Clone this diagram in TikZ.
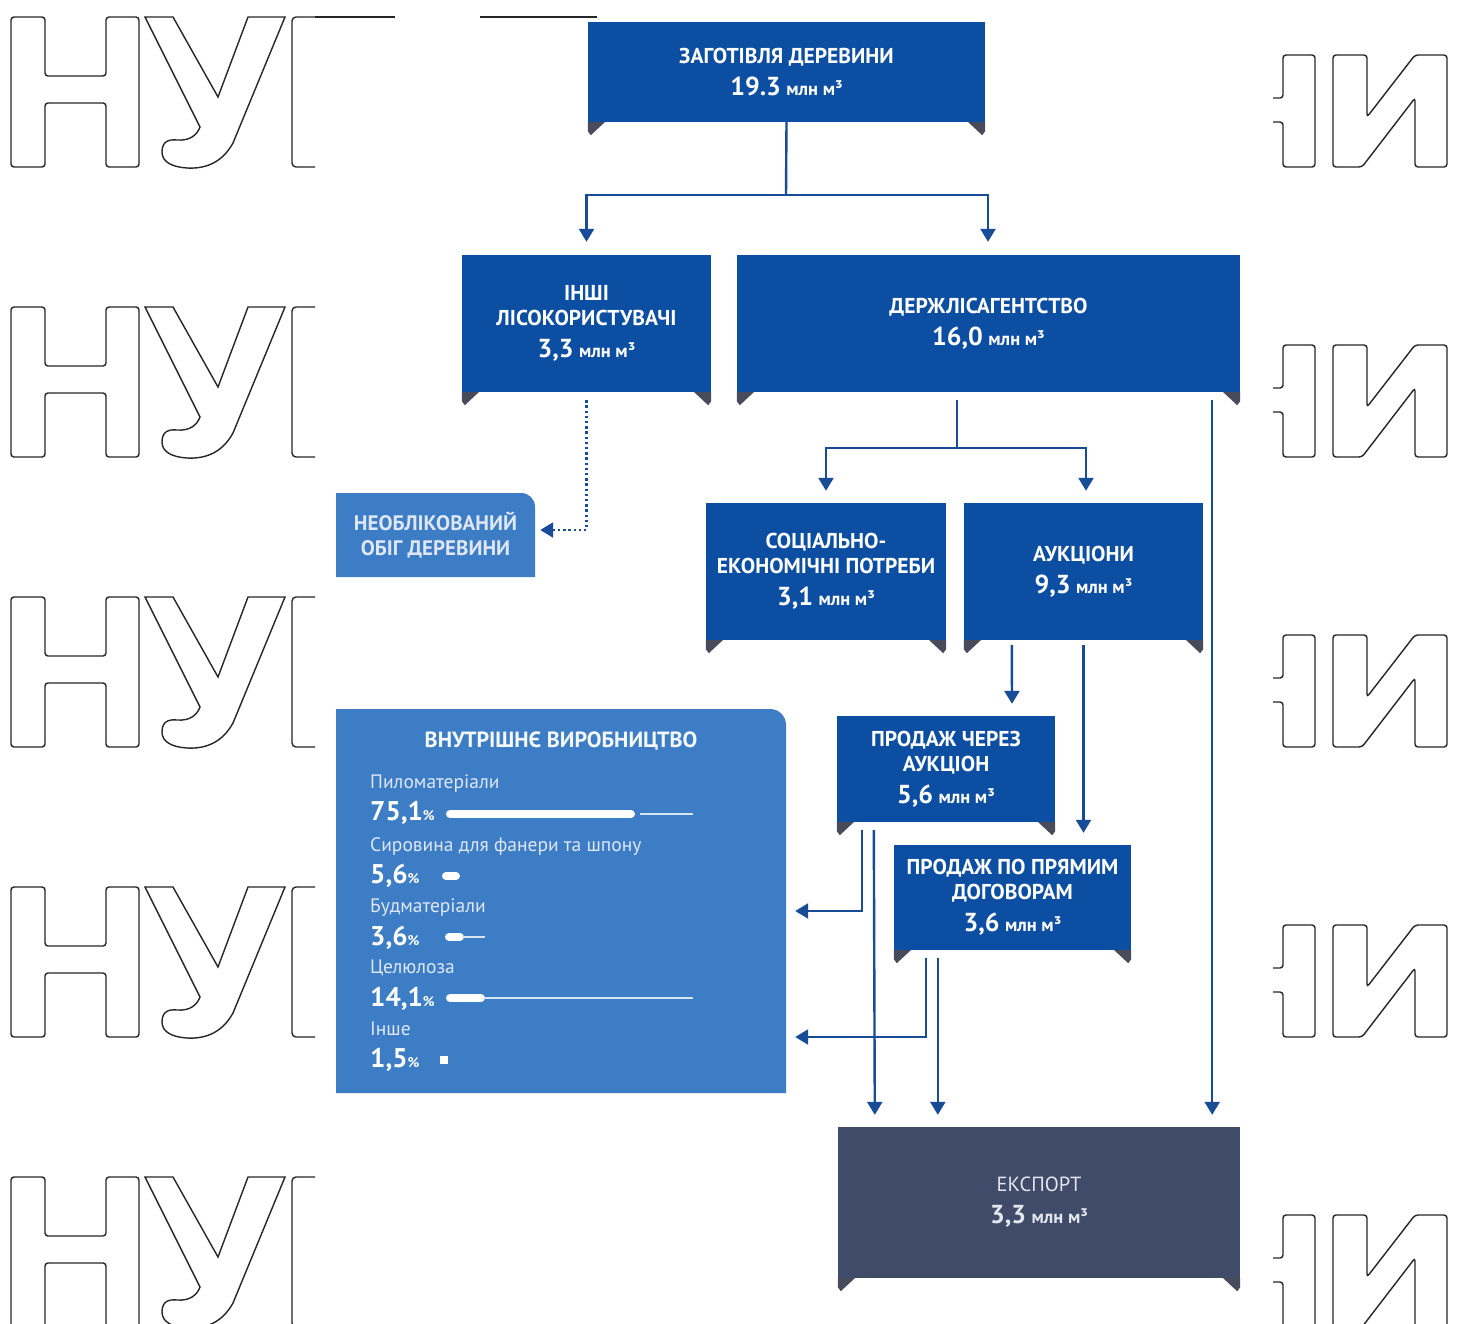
\documentclass[tikz,border=0pt]{standalone}
\usepackage{fontspec}
\setmainfont{PT Sans}
\usetikzlibrary{arrows.meta}
\definecolor{dblue}{RGB}{12,78,162}
\definecolor{lblue}{RGB}{61,125,197}
\definecolor{expc}{RGB}{63,75,104}
\definecolor{tabc}{RGB}{72,76,90}
\definecolor{linec}{RGB}{24,76,150}
\definecolor{ltext}{RGB}{222,231,243}
\definecolor{etext}{RGB}{226,230,237}
\newcommand\bnum[1]{{\fontsize{26}{26}\selectfont\bfseries #1}}
\newcommand\bunit[1]{{\fontsize{18.5}{18}\selectfont\bfseries #1}}
\newcommand\pcsign{{\fontsize{14}{14}\selectfont\%}}
\newcommand\boxtabs[1]{%
  \fill[tabc] (#1.south west) -- ++(17,0) -- ++(-14,13) -- ++(-3,-4) -- cycle;
  \fill[tabc] (#1.south east) -- ++(-17,0) -- ++(14,13) -- ++(3,-4) -- cycle;}
\begin{document}
\begin{tikzpicture}[x=1pt,y=-1pt,
  wm/.style={draw=black!85, line width=1.4pt},
  dbox/.style={fill=dblue, text=white, inner sep=0pt, align=center,
     font=\fontsize{21.5}{25}\selectfont\bfseries},
  ebox/.style={fill=expc, text=etext, inner sep=0pt, align=center,
     font=\fontsize{20.5}{25}\selectfont},
  lbox/.style={text=ltext, inner sep=0pt, align=center,
     font=\fontsize{21}{25}\selectfont\bfseries},
  conn/.style={draw=linec, line width=2.4pt, -{Triangle[width=15pt,length=13pt]}},
  dotconn/.style={conn, dash pattern=on 2.4pt off 2.8pt},
  lab/.style={text=ltext, inner sep=0pt, anchor=base west, font=\fontsize{19.5}{20}\selectfont},
  pct/.style={text=white, inner sep=0pt, anchor=base west, font=\fontsize{27}{28}\selectfont\bfseries},
  bar/.style={white, line width=8pt, line cap=round},
  track/.style={white!80!lblue, line width=1.5pt}
]
\fill[white] (0,0) rectangle (1459,1323);
\useasboundingbox (0,0) rectangle (1459,1323);

% ---------- watermark ----------
\begin{scope}
\clip (0,0) rectangle (315,1323);
\foreach \k in {0,...,4}{
 \begin{scope}[shift={(0,290*\k)}]
  \draw[wm, rounded corners=3pt] (11,17) -- (45,17) -- (45,76) -- (106,76) -- (106,17) -- (139,17) -- (139,167) -- (106,167) -- (106,103) -- (45,103) -- (45,167) -- (11,167) -- cycle;
  \draw[wm] (145,17) -- (173,17) -- (218,97) -- (248,17) -- (285,17) -- (233,143) .. controls (222,163) and (205,169) .. (187,168) .. controls (172,167) and (162,162) .. (162,152) .. controls (162,142) and (168,139) .. (177,140) .. controls (190,141) and (197,135) .. (200,127) -- cycle;
  \draw[wm, rounded corners=4pt] (330,17) -- (292,17) -- (292,167) -- (330,167);
 \end{scope}}
\end{scope}
\draw[wm] (315,17) -- (395,17);
\draw[wm] (480,17) -- (597,17);
\begin{scope}
\clip (1273,0) rectangle (1459,1323);
\foreach \k in {0,...,4}{
 \begin{scope}[shift={(0,290*\k)}]
  \draw[wm, rounded corners=3pt] (1260,98) -- (1283,98) -- (1283,55) -- (1315,55) -- (1315,167) -- (1283,167) -- (1283,122) -- (1260,122);
  \draw[wm, rounded corners=3pt] (1333,55) -- (1367,55) -- (1367,117) -- (1415,55) -- (1447,55) -- (1447,167) -- (1415,167) -- (1415,98) -- (1362,167) -- (1333,167) -- cycle;
 \end{scope}}
\end{scope}

% ---------- boxes ----------
\node[dbox, minimum width=397pt, minimum height=100pt] (zag) at (786.5,72)
  {ЗАГОТІВЛЯ ДЕРЕВИНИ\\[7pt]\bnum{19.3}~\bunit{млн м³}};
\node[dbox, minimum width=249pt, minimum height=137pt] (inshi) at (586.5,323.5)
  {ІНШІ\\ЛІСОКОРИСТУВАЧІ\\[7pt]\bnum{3,3}~\bunit{млн м³}};
\node[dbox, minimum width=503pt, minimum height=137pt] (derzh) at (988.5,323.5)
  {ДЕРЖЛІСАГЕНТСТВО\\[7pt]\bnum{16,0}~\bunit{млн м³}};
\node[dbox, minimum width=240pt, minimum height=137pt] (soc) at (826,571.5)
  {СОЦІАЛЬНО-\\ЕКОНОМІЧНІ ПОТРЕБИ\\[7pt]\bnum{3,1}~\bunit{млн м³}};
\node[dbox, minimum width=239pt, minimum height=137pt] (auk) at (1083.5,571.5)
  {АУКЦІОНИ\\[7pt]\bnum{9,3}~\bunit{млн м³}};
\node[dbox, minimum width=218pt, minimum height=106pt] (prauk) at (946,769)
  {ПРОДАЖ ЧЕРЕЗ\\АУКЦІОН\\[7pt]\bnum{5,6}~\bunit{млн м³}};
\node[dbox, minimum width=237pt, minimum height=105pt] (prdog) at (1012.5,897.5)
  {ПРОДАЖ ПО ПРЯМИМ\\ДОГОВОРАМ\\[7pt]\bnum{3,6}~\bunit{млн м³}};
\node[ebox, minimum width=402pt, minimum height=151pt] (export) at (1039,1202.5)
  {ЕКСПОРТ\\[7pt]\bnum{3,3}~\bunit{млн м³}};
\foreach \n in {zag,inshi,derzh,soc,auk,prauk,prdog,export}{\boxtabs{\n}}

% light boxes with rounded top-right corner
\fill[lblue] (336,577) -- (336,493) -- (521,493) .. controls (529,493) and (535,499) .. (535,507) -- (535,577) -- cycle;
\node[lbox, minimum width=199pt, minimum height=84pt] (neobl) at (435.5,535)
  {НЕОБЛІКОВАНИЙ\\ОБІГ ДЕРЕВИНИ};
\fill[lblue] (336,1093) -- (336,709) -- (770,709) .. controls (779,709) and (786,716) .. (786,725) -- (786,1093) -- cycle;
\node[inner sep=0pt, minimum width=450pt, minimum height=384pt] (vnutr) at (561,901) {};
\node[lbox, text=white!95!lblue, font=\fontsize{22}{25}\selectfont\bfseries] (vtitle) at (561,741) {ВНУТРІШНЄ ВИРОБНИЦТВО};

\node[lab] (l1) at (370,788) {Пиломатеріали};
\node[pct] (p1) at (370,820) {75,1\pcsign};
\draw[bar] (450,814) -- (631,814);
\draw[track] (640,814) -- (693,814);
\node[lab] (l2) at (370,851) {Сировина для фанери та шпону};
\node[pct] (p2) at (370,883) {5,6\pcsign};
\draw[bar] (446,876) -- (456,876);
\node[lab] (l3) at (370,912) {Будматеріали};
\node[pct] (p3) at (370,945) {3,6\pcsign};
\draw[bar] (449,937) -- (460,937);
\draw[track] (462,937) -- (485,937);
\node[lab] (l4) at (370,973) {Целюлоза};
\node[pct] (p4) at (370,1006) {14,1\pcsign};
\draw[bar] (450,998) -- (481,998);
\draw[track] (484,998) -- (693,998);
\node[lab] (l5) at (370,1035) {Інше};
\node[pct] (p5) at (370,1067) {1,5\pcsign};
\fill[white] (440,1056) rectangle (448,1064);

% ---------- connectors ----------
\coordinate (j1) at (786,195);
\draw[linec, line width=2.4pt] (zag.south) -- (j1);
\draw[conn] (j1) -| ([yshift=13pt]inshi.north);
\draw[conn] (j1) -| ([yshift=13pt,xshift=-0.5pt]derzh.north);
\draw[dotconn] ([yshift=-8pt]inshi.south) |- ([xshift=5pt,yshift=5pt]neobl.east);
\coordinate (j2) at (957,448);
\draw[linec, line width=2.4pt] ([xshift=-31.5pt,yshift=-8pt]derzh.south) -- (j2);
\draw[conn] (j2) -| ([yshift=12pt]soc.north);
\draw[conn] (j2) -| ([yshift=12pt,xshift=2.5pt]auk.north);
\draw[conn] ([xshift=-28pt,yshift=-8pt]derzh.south east) -- ([xshift=-28pt,yshift=12pt]export.north east);
\draw[conn] ([xshift=48pt,yshift=-5pt]auk.south west) -- ([xshift=66pt,yshift=12pt]prauk.north);
\draw[conn] ([yshift=-5pt]auk.south) -- ([xshift=71pt,yshift=12pt]prdog.north);
\draw[conn] ([xshift=25pt,yshift=-8pt]prauk.south west) |- ([xshift=9pt,yshift=-10pt]vnutr.east);
\draw[conn] ([xshift=37pt,yshift=-8pt]prauk.south west) -- ([xshift=37pt,yshift=12pt]export.north west);
\draw[conn] ([xshift=32pt,yshift=-8pt]prdog.south west) |- ([xshift=9pt,yshift=-136pt]vnutr.east);
\draw[conn] ([xshift=44pt,yshift=-8pt]prdog.south west) -- ([xshift=100pt,yshift=12pt]export.north west);
\end{tikzpicture}
\end{document}
